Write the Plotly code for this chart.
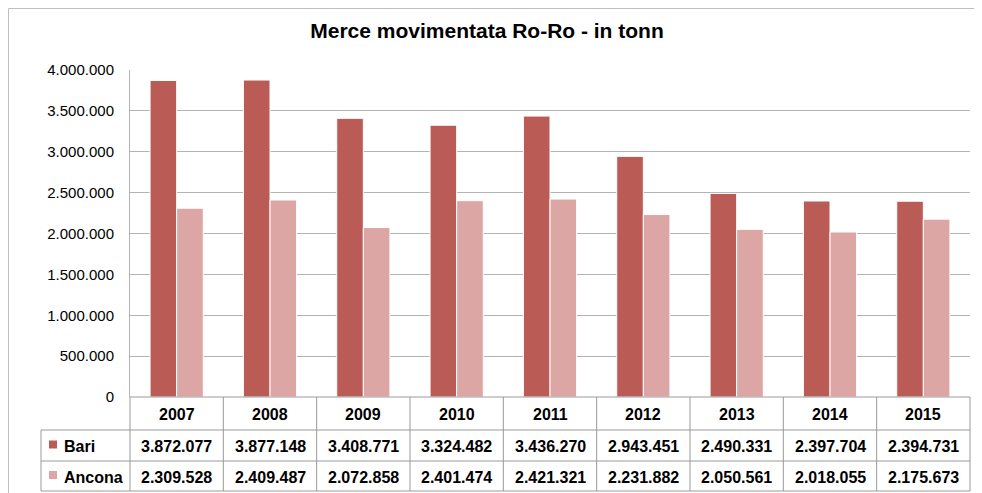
import plotly.graph_objects as go

years = ["2007", "2008", "2009", "2010", "2011", "2012", "2013", "2014", "2015"]
bari = [3872077, 3877148, 3408771, 3324482, 3436270, 2943451, 2490331, 2397704, 2394731]
ancona = [2309528, 2409487, 2072858, 2401474, 2421321, 2231882, 2050561, 2018055, 2175673]
series_names = ["Bari", "Ancona"]
y_ticks = [0, 500000, 1000000, 1500000, 2000000, 2500000, 3000000, 3500000, 4000000]
title_text = "Merce movimentata Ro-Ro - in tonn"

# page body has an 8px default margin: compensate so screen pixels line up
OX, OY = 8, 8
W, H = 982 - OX, 493 - OY
L, R, T, B = 130, 970, 70, 397  # plot area in screen pixels
colors = ["#BA5C55", "#DCA6A4"]
FONT = "Liberation Sans, Arial, sans-serif"


def fmt(v):
    return f"{v:,}".replace(",", ".")


def px(x):
    return (x - L) / (R - L)


def py(y):
    return (B - y) / (B - T)


fig = go.Figure()
for name, vals, c in zip(series_names, [bari, ancona], colors):
    fig.add_trace(go.Bar(x=years, y=vals, name=name, marker=dict(color=c, line=dict(color="white", width=1))))

shapes = []
ann = []
line_c = "#9A9A9A"


def hline(x0, x1, y, color=line_c, w=1):
    shapes.append(dict(type="line", xref="paper", yref="paper", x0=px(x0), x1=px(x1), y0=py(y), y1=py(y),
                       line=dict(color=color, width=w)))


def vline(x, y0, y1, color=line_c, w=1):
    shapes.append(dict(type="line", xref="paper", yref="paper", x0=px(x), x1=px(x), y0=py(y0), y1=py(y1),
                       line=dict(color=color, width=w)))


def text(x, y, s, size=16, xanchor="center"):
    ann.append(dict(x=px(x), y=py(y), text=s, showarrow=False, xanchor=xanchor, yanchor="middle",
                    xref="paper", yref="paper", font=dict(size=size, color="black", family=FONT)))


# outer chart border
shapes.append(dict(type="rect", xref="paper", yref="paper", x0=px(8.5), x1=px(978), y0=py(8.5), y1=py(505),
                   line=dict(color="#BFBFBF", width=1), layer="below"))

# data table
row_y = [397, 430, 461, 491]
n = len(years)
cw = (R - L) / n
hline(L, R, row_y[0])
hline(41, R, row_y[1])
hline(41, R, row_y[2])
hline(41, R, row_y[3])
for i in range(n + 1):
    vline(L + i * cw, row_y[0], row_y[3])
vline(41, row_y[1], row_y[3])

for i, yr in enumerate(years):
    cx = L + (i + 0.5) * cw
    text(cx, (row_y[0] + row_y[1]) / 2 + 1, f"<b>{yr}</b>")
    for r, vals in enumerate([bari, ancona]):
        text(cx, (row_y[r + 1] + row_y[r + 2]) / 2 + 1, f"<b>{fmt(vals[i])}</b>")

for r, (name, c) in enumerate(zip(series_names, colors)):
    yc = (row_y[r + 1] + row_y[r + 2]) / 2
    shapes.append(dict(type="rect", xref="paper", yref="paper", x0=px(49), x1=px(57), y0=py(yc - 5),
                       y1=py(yc + 3), fillcolor=c, line=dict(width=0)))
    text(62, yc + 1, f"<b>{name}</b>", xanchor="left")

fig.update_layout(
    width=W, height=H,
    margin=dict(l=L - OX, r=W - (R - OX), t=T - OY, b=H - (B - OY), pad=0, autoexpand=False),
    paper_bgcolor="white", plot_bgcolor="white",
    separators=",.",
    barmode="group", bargap=0.43, bargroupgap=0,
    showlegend=False,
    title=dict(text=f"<b>{title_text}</b>", xref="container", x=(487 - OX) / W, xanchor="center",
               yref="container", y=1 - (31 - OY) / H, yanchor="middle",
               font=dict(size=21, color="black", family=FONT)),
    xaxis=dict(showticklabels=False, showgrid=False, zeroline=False, showline=False, ticks=""),
    yaxis=dict(range=[0, 4000000], tickvals=y_ticks, tickformat=",d", showgrid=True, gridcolor="#B3B3B3",
               gridwidth=1, zeroline=False, showline=True, linecolor="#B3B3B3", linewidth=1,
               ticks="", ticklabelstandoff=12, automargin=False,
               tickfont=dict(size=15, color="black", family=FONT)),
    shapes=shapes, annotations=ann,
)
fig.write_html("out.html")
